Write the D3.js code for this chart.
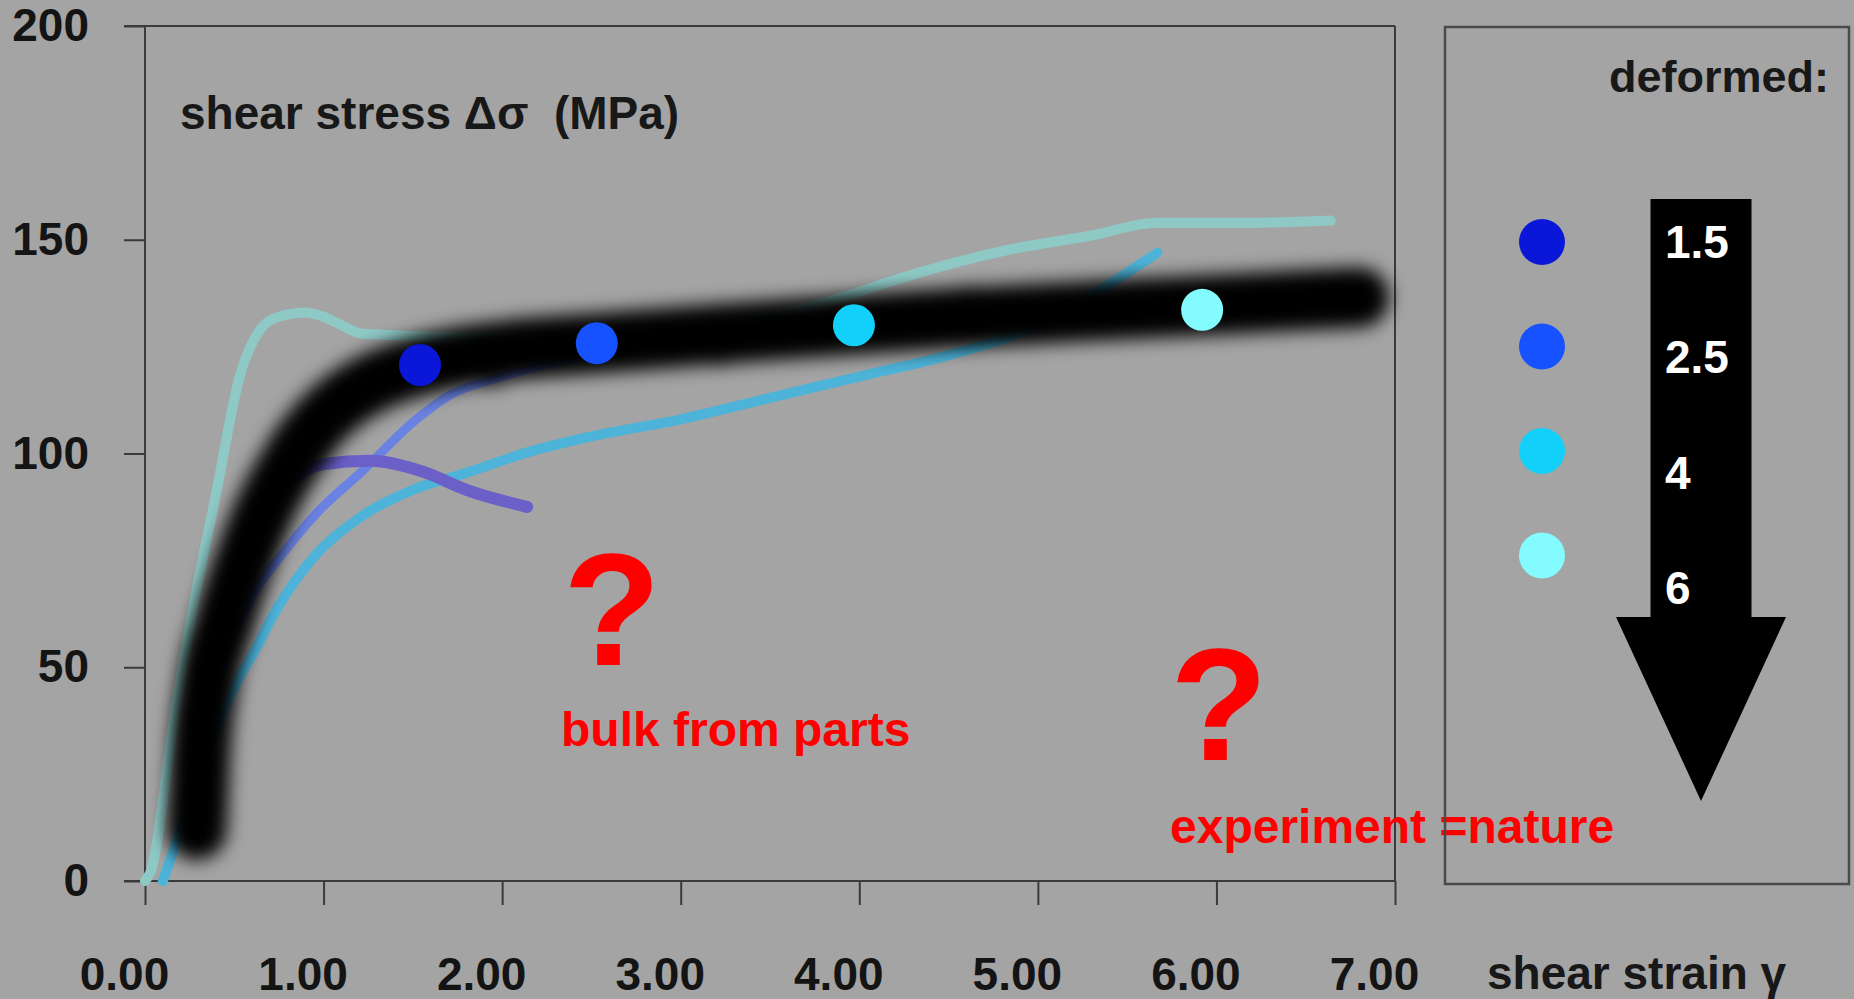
<!DOCTYPE html>
<html>
<head>
<meta charset="utf-8">
<script src="https://cdn.jsdelivr.net/npm/d3@7"></script>
<style>
  body { margin: 0; background: #a4a4a4; }
  svg { display: block; }
  text { font-family: "Liberation Sans", Arial, sans-serif; }
</style>
</head>
<body>
<script>
// strain axis ticks and stress axis ticks
const xTicks = [0, 1, 2, 3, 4, 5, 6, 7];
const yTicks = [0, 50, 100, 150, 200];

// experiment curves (shear strain, shear stress)
const tealX = [0.0, 0.03, 0.16, 0.27, 0.4, 0.53, 0.64, 0.75, 0.9, 1.0, 1.1, 1.22, 2.0, 3.0, 3.5, 3.9, 4.23, 4.83, 5.3, 5.67, 6.2, 6.64];
const tealY = [0, 2, 37, 64, 91, 118, 128.7, 132, 133, 132, 130, 128, 127, 129, 132, 136.5, 141, 147.6, 151, 154, 154, 154.5];

const cyanX = [0.1, 0.25, 0.4, 0.52, 0.63, 0.7, 0.89, 1.22, 1.5, 1.8, 2.16, 2.5, 3.0, 3.5, 4.0, 4.5, 5.0, 5.3, 5.67];
const cyanY = [0, 18, 36, 47, 55, 60.8, 73, 85.5, 91.5, 95.5, 100.5, 104, 108, 113, 118, 123, 130, 137, 147];

const blueX = [0.3, 0.38, 0.5, 0.62, 0.76, 0.96, 1.22, 1.52, 1.7, 2.0, 2.5];
const blueY = [10, 40, 58, 68, 76, 86, 96, 108, 113.5, 118, 123];

const violetX = [0.3, 0.35, 0.45, 0.6, 0.8, 1.0, 1.26, 1.56, 1.8, 2.14];
const violetY = [10, 40, 65, 82, 93, 97.5, 98.3, 95.7, 91.5, 87.5];

// bulk curve (thick black band)
const bulkX = [0.29, 0.31, 0.35, 0.44, 0.54, 0.66, 0.8, 0.95, 1.1, 1.25, 1.54, 2.0, 2.53, 3.0, 3.5, 4.0, 4.5, 5.0, 5.5, 6.0, 6.5, 6.8];
const bulkY = [12, 30, 45, 60, 73, 86, 97, 106, 112, 116, 120.5, 124, 125.8, 127.3, 128.8, 130.2, 131.6, 132.7, 133.8, 134.8, 135.9, 136.5];
const bulkDotX = [0.87, 1.93, 3.22, 4.62];
const bulkDotY = [101.5, 123, 127.8, 132];

// deformed samples
const deformed = ["1.5", "2.5", "4", "6"];
const dotX = [1.54, 2.53, 3.97, 5.92];
const dotY = [120.7, 125.8, 130, 133.6];
const dotColors = ["#0a16d8", "#1652ff", "#12d0fa", "#84fcff"];

const W = 1854, H = 999;
const font = 46;

var svg = d3.select("body").append("svg")
  .attr("width", W)
  .attr("height", H);

svg.append("rect").attr("width", W).attr("height", H).attr("fill", "#a4a4a4");

var defs = svg.append("defs");
defs.append("filter").attr("id", "blur")
  .attr("x", "-20%").attr("y", "-20%").attr("width", "140%").attr("height", "140%")
  .append("feGaussianBlur").attr("stdDeviation", 9);

var x = d3.scaleLinear().domain([0, 7]).range([145, 1395]);
var y = d3.scaleLinear().domain([0, 200]).range([881, 26]);

var axisColor = "#3a3a3a";

// frame lines
svg.append("line")
  .attr("x1", x(0) - 21).attr("x2", x(7))
  .attr("y1", y(200)).attr("y2", y(200))
  .attr("stroke", axisColor).attr("stroke-width", 2);
svg.append("line")
  .attr("x1", x(7)).attr("x2", x(7))
  .attr("y1", y(200)).attr("y2", y(0))
  .attr("stroke", axisColor).attr("stroke-width", 2);

// axes
var xAxis = svg.append("g")
  .attr("transform", "translate(0," + y(0) + ")")
  .call(d3.axisBottom(x).tickValues(xTicks).tickFormat(d3.format(".2f"))
    .tickSize(24).tickSizeOuter(0).tickPadding(52));
xAxis.select(".domain").remove();
xAxis.selectAll(".tick line").attr("stroke", axisColor).attr("stroke-width", 2);
xAxis.selectAll(".tick text")
  .attr("x", -21)
  .attr("fill", "#141414")
  .style("font-size", font + "px")
  .style("font-weight", "bold")
  .style("font-family", "'Liberation Sans', Arial, sans-serif");
svg.append("line")
  .attr("x1", x(0) - 21).attr("x2", x(7))
  .attr("y1", y(0)).attr("y2", y(0))
  .attr("stroke", axisColor).attr("stroke-width", 2);

var yAxis = svg.append("g")
  .attr("transform", "translate(" + x(0) + ",0)")
  .call(d3.axisLeft(y).tickValues(yTicks).tickSize(21).tickSizeOuter(0).tickPadding(35));
yAxis.select(".domain").remove();
yAxis.selectAll(".tick line").attr("stroke", axisColor).attr("stroke-width", 2);
yAxis.selectAll(".tick text")
  .attr("fill", "#141414")
  .style("font-size", font + "px")
  .style("font-weight", "bold")
  .style("font-family", "'Liberation Sans', Arial, sans-serif");
svg.append("line")
  .attr("x1", x(0)).attr("x2", x(0))
  .attr("y1", y(200)).attr("y2", y(0))
  .attr("stroke", axisColor).attr("stroke-width", 2);

// experiment curves
var line = d3.line()
  .x(function(d) { return x(d[0]); })
  .y(function(d) { return y(d[1]); })
  .curve(d3.curveMonotoneX);

var curves = [
  { xs: tealX, ys: tealY, color: "#8ec9c6", w: 10 },
  { xs: blueX, ys: blueY, color: "#6a82e2", w: 9 },
  { xs: cyanX, ys: cyanY, color: "#4db3d8", w: 10 },
  { xs: violetX, ys: violetY, color: "#6b5fc8", w: 12 }
];
curves.forEach(function(c) {
  var pts = c.xs.map(function(v, i) { return [v, c.ys[i]]; });
  svg.append("path")
    .attr("d", line(pts))
    .attr("fill", "none")
    .attr("stroke", c.color)
    .attr("stroke-width", c.w)
    .attr("stroke-linecap", "round")
    .attr("stroke-linejoin", "round");
});

// bulk band
var band = svg.append("g").attr("filter", "url(#blur)");
band.append("path")
  .attr("d", line(bulkX.map(function(v, i) { return [v, bulkY[i]]; })))
  .attr("fill", "none")
  .attr("stroke", "#000")
  .attr("stroke-width", 60)
  .attr("stroke-linecap", "round")
  .attr("stroke-linejoin", "round");
band.selectAll("circle")
  .data(bulkDotX)
  .enter().append("circle")
  .attr("cx", function(d) { return x(d); })
  .attr("cy", function(d, i) { return y(bulkDotY[i]); })
  .attr("r", 31)
  .attr("fill", "#000");

// deformed sample points
svg.selectAll("circle.sample")
  .data(dotX)
  .enter().append("circle")
  .attr("class", "sample")
  .attr("cx", function(d) { return x(d); })
  .attr("cy", function(d, i) { return y(dotY[i]); })
  .attr("r", 21)
  .attr("fill", function(d, i) { return dotColors[i]; });

// titles
svg.append("text")
  .attr("x", 180).attr("y", 129)
  .attr("fill", "#181818")
  .style("font-size", "46px").style("font-weight", "bold")
  .style("white-space", "pre")
  .text("shear stress \u0394\u03c3  (MPa)");

svg.append("text")
  .attr("x", 1487).attr("y", 989)
  .attr("fill", "#181818")
  .style("font-size", font + "px").style("font-weight", "bold")
  .text("shear strain \u03b3");

// red annotations
var red = "#ff0000";
svg.append("text").attr("x", 563).attr("y", 665).attr("fill", red)
  .style("font-size", "160px").style("font-weight", "bold").text("?");
svg.append("text").attr("x", 561).attr("y", 746).attr("fill", red)
  .style("font-size", "48px").style("font-weight", "bold").text("bulk from parts");
svg.append("text").attr("x", 1170).attr("y", 760).attr("fill", red)
  .style("font-size", "160px").style("font-weight", "bold").text("?");
svg.append("text").attr("x", 1170).attr("y", 843).attr("fill", red)
  .style("font-size", "48px").style("font-weight", "bold").text("experiment =nature");

// legend
var lg = { x: 1445, y: 27, w: 404, h: 857 };
svg.append("rect")
  .attr("x", lg.x).attr("y", lg.y).attr("width", lg.w).attr("height", lg.h)
  .attr("fill", "none").attr("stroke", "#4a4a4a").attr("stroke-width", 2.5);

svg.append("text")
  .attr("x", lg.x + 384).attr("y", lg.y + 65)
  .attr("text-anchor", "end")
  .attr("fill", "#181818")
  .style("font-size", "45px").style("font-weight", "bold")
  .text("deformed:");

// arrow
var arrowX = lg.x + 256, arrowTop = lg.y + 172;
var shaftW = 101, headW = 170, shaftEnd = lg.y + 590, arrowTip = lg.y + 774;
svg.append("polygon")
  .attr("points", [
    [arrowX - shaftW / 2, arrowTop], [arrowX + shaftW / 2, arrowTop], [arrowX + shaftW / 2, shaftEnd],
    [arrowX + headW / 2, shaftEnd], [arrowX, arrowTip], [arrowX - headW / 2, shaftEnd], [arrowX - shaftW / 2, shaftEnd]
  ].map(function(p) { return p.join(","); }).join(" "))
  .attr("fill", "#000");

svg.selectAll("circle.legend")
  .data(deformed)
  .enter().append("circle")
  .attr("class", "legend")
  .attr("cx", lg.x + 97)
  .attr("cy", function(d, i) { return lg.y + 215 + i * 104.5; })
  .attr("r", 23)
  .attr("fill", function(d, i) { return dotColors[i]; });

svg.selectAll("text.legend")
  .data(deformed)
  .enter().append("text")
  .attr("class", "legend")
  .attr("x", lg.x + 220)
  .attr("y", function(d, i) { return lg.y + 214 + i * 115.5; })
  .attr("dy", "0.36em")
  .attr("fill", "#fff")
  .style("font-size", font + "px").style("font-weight", "bold")
  .text(function(d) { return d; });
</script>
</body>
</html>
